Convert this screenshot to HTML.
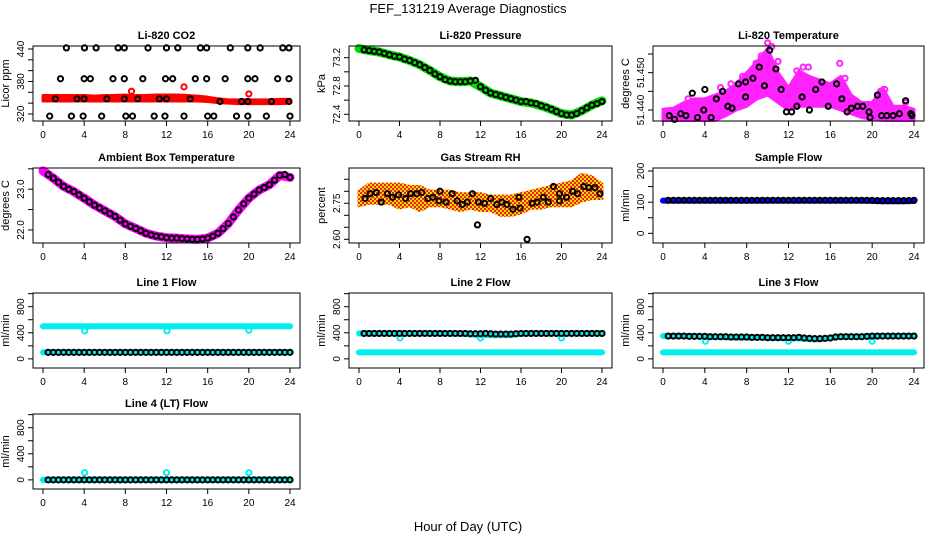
<!DOCTYPE html>
<html><head><meta charset="utf-8"><style>
html,body{margin:0;padding:0;background:#fff;}
svg{display:block;font-family:"Liberation Sans",sans-serif;}
</style></head><body>
<svg id="chart" width="936" height="540" viewBox="0 0 936 540" xmlns="http://www.w3.org/2000/svg">
<defs>
<pattern id="rhpat" width="4" height="4" patternUnits="userSpaceOnUse">
<rect width="4" height="4" fill="#ffd700"/><rect width="2" height="2" fill="#e8261a"/><rect x="2" y="2" width="2" height="2" fill="#e8261a"/>
</pattern>
</defs>
<text x="468" y="13" font-size="13" text-anchor="middle">FEF_131219  Average Diagnostics</text>
<text x="468" y="531" font-size="13" text-anchor="middle">Hour of Day (UTC)</text>
</svg>
<script>
const hourly=[0,1,2,3,4,5,6,7,8,9,10,11,12,13,14,15,16,17,18,19,20,21,22,23,24];
const halfHours=[0.5,1,1.5,2,2.5,3,3.5,4,4.5,5,5.5,6,6.5,7,7.5,8,8.5,9,9.5,10,10.5,11,11.5,12,12.5,13,13.5,14,14.5,15,15.5,16,16.5,17,17.5,18,18.5,19,19.5,20,20.5,21,21.5,22,22.5,23,23.5,24];
const xTicks=[0,4,8,12,16,20,24];

// CO2
const co2Lower=[344,344,344,344,344,344,344,344,344,344,344,344,344,344,344,344,343,341,340,339,339,339,339,339,340];
const co2Upper=[354,354,354,354,354,353,354,354,355,354,354,355,355,355,354,353,351,348,346,346,346,346,346,347,347];
const co2OutHours=[8.6,13.7,20];
const co2OutValues=[362,370,357];
const co2BlackHours=[2.27,4.03,5.16,7.3,7.9,10.2,12,13.1,15.3,15.9,18.2,19.9,21.1,23.3,23.9, 1.7,4,4.6,6.8,7.9,9.7,11.9,12.6,14.8,15.9,17.7,19.9,20.6,22.8,23.9, 1.2,3.3,4,6.2,7.9,9.2,11.3,12,14.3,17.2,19.3,19.9,22.2,23.9, 0.65,2.76,3.9,5.7,8.05,8.7,10.8,11.85,13.7,16,16.6,18.8,19.9,21.7,24];
const co2BlackValues=[442,442,442,442,442,442,442,442,442,442,442,442,442,442,442, 385,385,385,385,385,385,385,385,385,385,385,385,385,385,385, 348,348,348,348,348,348,348,348,348,343,343,343,343,343, 316,316,316,316,316,316,316,316,316,316,316,316,316,316,316];

// Pressure
const presBand=[73.33,73.30,73.28,73.24,73.21,73.16,73.10,73.02,72.93,72.87,72.86,72.87,72.79,72.70,72.66,72.62,72.58,72.56,72.52,72.47,72.41,72.39,72.45,72.53,72.59];
const presBlack=[73.31,73.30,73.29,73.28,73.26,73.24,73.22,73.21,73.18,73.16,73.13,73.10,73.06,73.02,72.97,72.93,72.89,72.87,72.86,72.86,72.86,72.87,72.88,72.79,72.74,72.70,72.68,72.66,72.64,72.62,72.60,72.58,72.58,72.56,72.55,72.52,72.50,72.47,72.44,72.41,72.39,72.39,72.41,72.45,72.49,72.53,72.55,72.58];

// Li-820 temperature
const ltUpper=[51.4402,51.4405,51.442,51.443,51.443,51.444,51.445,51.447,51.450,51.453,51.4565,51.450,51.446,51.4505,51.449,51.448,51.447,51.449,51.444,51.442,51.442,51.446,51.441,51.441,51.4402];
const ltLower=[51.4372,51.4372,51.4372,51.4372,51.4372,51.4372,51.4385,51.440,51.441,51.443,51.444,51.442,51.440,51.441,51.441,51.441,51.441,51.440,51.439,51.438,51.4375,51.4372,51.4372,51.4372,51.4372];
const ltScatterHours=[2.4,3.0,5.5,6.5,7.6,8.2,8.9,9.4,10.0,10.4,11.0,12.8,13.4,13.9,16.9,17.4,20.8,21.2,23.2,1.5];
const ltScatterValues=[51.4430,51.4415,51.4460,51.4470,51.4490,51.4480,51.4525,51.4545,51.4580,51.4570,51.4530,51.4505,51.4515,51.4515,51.4525,51.4485,51.4450,51.4455,51.4420,51.4405];
const ltBlackHours=[0.6,1.1,1.7,2.2,2.8,3.3,3.9,4,4.6,5.1,5.7,6.2,6.6,7.2,7.9,7.9,8.6,9.2,9.7,10.2,10.8,11.3,11.8,12.3,12.8,13.3,14,14.6,15.2,15.8,16.6,17.1,17.6,18,18.6,19.1,19.7,19.8,20.5,20.9,21.4,22,22.6,23.2,23.7,23.8];
const ltBlackValues=[51.4385,51.4375,51.439,51.4385,51.4445,51.438,51.440,51.4455,51.438,51.443,51.445,51.441,51.4405,51.447,51.4435,51.4475,51.4485,51.4515,51.4465,51.456,51.451,51.4455,51.4395,51.4395,51.441,51.4435,51.440,51.4455,51.4475,51.441,51.447,51.443,51.4395,51.4405,51.441,51.441,51.4395,51.438,51.444,51.4385,51.4385,51.4385,51.439,51.4425,51.439,51.4385];

// Ambient box temperature
const ambBand=[23.45,23.27,23.07,22.94,22.78,22.61,22.47,22.33,22.15,22.04,21.92,21.85,21.81,21.80,21.78,21.77,21.80,21.92,22.16,22.49,22.78,22.98,23.11,23.34,23.29];
const ambBlack=[23.36,23.27,23.17,23.07,23.0,22.94,22.86,22.78,22.69,22.61,22.54,22.47,22.40,22.33,22.24,22.15,22.09,22.04,21.98,21.92,21.88,21.85,21.83,21.81,21.80,21.80,21.79,21.78,21.77,21.77,21.78,21.80,21.85,21.92,22.03,22.16,22.32,22.49,22.64,22.78,22.88,22.98,23.04,23.11,23.22,23.34,23.36,23.29];

// Gas stream RH
const rhUpper=[2.80,2.83,2.83,2.83,2.83,2.82,2.82,2.80,2.80,2.80,2.79,2.79,2.79,2.78,2.78,2.78,2.79,2.80,2.81,2.82,2.83,2.84,2.87,2.86,2.83];
const rhLower=[2.74,2.75,2.75,2.75,2.73,2.74,2.72,2.74,2.74,2.73,2.72,2.73,2.72,2.72,2.70,2.70,2.71,2.73,2.73,2.74,2.74,2.74,2.76,2.77,2.77];
const rhBlackHours=[0.6,1.1,1.7,2.2,2.8,3.3,3.9,4.6,5.1,5.7,6.2,6.8,7.3,7.9,8,8.6,9.2,9.7,10.2,10.7,11.2,11.7,11.8,12.4,13,13.6,14.1,14.6,15.2,15.8,15.9,16.6,17.1,17.6,18.2,18.7,19.2,19.8,19.8,20.5,21.1,21.6,22.2,22.7,23.3,23.8];
const rhBlackValues=[2.77,2.79,2.795,2.755,2.79,2.775,2.785,2.77,2.79,2.79,2.795,2.77,2.775,2.76,2.80,2.755,2.79,2.76,2.745,2.755,2.79,2.66,2.755,2.75,2.77,2.745,2.755,2.745,2.725,2.775,2.73,2.60,2.75,2.755,2.775,2.755,2.82,2.76,2.79,2.775,2.80,2.79,2.82,2.815,2.815,2.79];

// Sample flow
const sampleBand=[105,105,105,105,105,105,105,105,105,105,105,105,105,105,105,105,105,105,105,105,104,103,103,103,104];
const sampleBlack=[106,106,106,106,106,106,106,106,106,106,106,106,106,106,106,106,106,106,106,106,106,106,106,106,106,106,106,106,106,106,106,106,106,106,106,106,106,106,106,106,105,105,105,105,105,105,105,106];

// Line flows
const l1High=[500,500,500,500,500,500,500,500,500,500,500,500,500,500,500,500,500,500,500,500,500,500,500,500,500];
const l1Low=[100,100,100,100,100,100,100,100,100,100,100,100,100,100,100,100,100,100,100,100,100,100,100,100,100];
const l1Black=[100,100,100,100,100,100,100,100,100,100,100,100,100,100,100,100,100,100,100,100,100,100,100,100,100,100,100,100,100,100,100,100,100,100,100,100,100,100,100,100,100,100,100,100,100,100,100,100];
const l1OutHours=[4.05,12.05,20.0];
const l1OutValues=[430,430,440];

const l2High=[390,390,390,390,390,390,390,390,390,390,385,375,370,365,365,365,385,390,390,390,390,390,390,390,390];
const l2Low=[100,100,100,100,100,100,100,100,100,100,100,100,100,100,100,100,100,100,100,100,100,100,100,100,100];
const l2Black=[390,390,390,390,390,390,390,390,390,390,390,390,390,390,390,390,390,390,390,390,390,385,385,385,390,385,380,380,380,380,385,390,390,390,390,390,390,390,390,390,390,390,390,390,390,390,390,390];
const l2OutHours=[4.05,12.0,20.0];
const l2OutValues=[320,320,320];

const l3High=[350,350,350,350,340,335,330,330,325,325,325,320,320,315,300,300,320,340,340,340,350,350,350,350,350];
const l3Low=[100,100,100,100,100,100,100,100,100,100,100,100,100,100,100,100,100,100,100,100,100,100,100,100,100];
const l3Black=[350,350,350,350,345,345,345,345,340,340,340,340,335,335,335,335,330,330,330,325,325,325,325,325,325,330,320,315,310,310,315,320,335,340,340,340,340,340,345,350,350,350,350,350,350,350,350,350];
const l3OutHours=[4.05,12.0,20.0];
const l3OutValues=[270,270,270];

const l4Band=[0,0,0,0,0,0,0,0,0,0,0,0,0,0,0,0,0,0,0,0,0,0,0,0,0];
const l4Black=[0,0,0,0,0,0,0,0,0,0,0,0,0,0,0,0,0,0,0,0,0,0,0,0,0,0,0,0,0,0,0,0,0,0,0,0,0,0,0,0,0,0,0,0,0,0,0,0];
const l4OutHours=[4.05,12.0,20.0];
const l4OutValues=[110,110,110];

const flowTicks=[0,200,400,600,800,1000];
const flowLabels=[0,400,800];

const NS='http://www.w3.org/2000/svg';
const svg=document.getElementById('chart');
const colX=[[33,300],[349,612],[653,924]];
const rowY=[46,168,293,414];
const BOXH=75;

function mk(tag,attrs,parent){const e=document.createElementNS(NS,tag);for(const k in attrs)e.setAttribute(k,attrs[k]);(parent||svg).appendChild(e);return e;}

function panel(col,row,title,ytitle,ylim,yticks,ylabels,fmt,name){
  const L=colX[col][0],R=colX[col][1],T=rowY[row],B=T+BOXH;
  const g=mk('g',{});
  
  
  const sx=h=>L+10+(h/24)*(R-L-20);
  const sy=v=>B-(v-ylim[0])/(ylim[1]-ylim[0])*BOXH;
  const plot=mk('g',{},g);
  
  
  const box=mk('rect',{x:L,y:T,width:R-L,height:BOXH,fill:'none',stroke:'#000','stroke-width':1},g);
  
  
  const t=mk('text',{x:(L+R)/2,y:T-7,'font-size':11,'font-weight':'bold','text-anchor':'middle'},g);
  t.textContent=title;
  
  
  xTicks.forEach(h=>{
    mk('line',{x1:sx(h),x2:sx(h),y1:B,y2:B+5,stroke:'#000'},g);
    const tl=mk('text',{x:sx(h),y:B+17,'font-size':10,'text-anchor':'middle'},g);
    tl.textContent=h;
    
    
  });
  mk('line',{x1:L,x2:L,y1:sy(yticks[0]),y2:sy(yticks[yticks.length-1]),stroke:'#000'},g);
  yticks.forEach(v=>{mk('line',{x1:L-5,x2:L,y1:sy(v),y2:sy(v),stroke:'#000'},g);});
  ylabels.forEach(v=>{
    const x=L-9,y=sy(v);
    const yl=mk('text',{x:x,y:y,'font-size':10,'text-anchor':'middle',transform:`rotate(-90 ${x} ${y})`},g);
    yl.textContent=fmt(v);
    
    
  });
  const yx=L-24,yy=(T+B)/2;
  const yt=mk('text',{x:yx,y:yy,'font-size':11,'text-anchor':'middle',transform:`rotate(-90 ${yx} ${yy})`},g);
  yt.textContent=ytitle;
  
  
  return {sx,sy,g:plot};
}
function band(p,xs,lo,hi,fill,name){
  let d='M'+xs.map((h,i)=>p.sx(h)+','+p.sy(hi[i])).join(' L');
  d+=' L'+xs.map((h,i)=>p.sx(h)+','+p.sy(lo[i])).reverse().join(' L')+' Z';
  const e=mk('path',{d:d,fill:fill,stroke:fill,'stroke-width':3,'stroke-linejoin':'round'},p.g);
  
  
}
function thick(p,xs,vals,color,w,name){
  const e=mk('polyline',{points:xs.map((h,i)=>p.sx(h)+','+p.sy(vals[i])).join(' '),fill:'none',stroke:color,'stroke-width':w,'stroke-linecap':'round','stroke-linejoin':'round'},p.g);
  
  
}
function pts(p,xs,vals,color,name){
  xs.forEach((h,i)=>{
    const c=mk('circle',{cx:p.sx(h),cy:p.sy(vals[i]),r:2.6,fill:'none',stroke:color,'stroke-width':2},p.g);
    
    
  });
}
const f0=v=>String(v), f1=v=>v.toFixed(1), f2=v=>v.toFixed(2), f3=v=>v.toFixed(3);

let p;
p=panel(0,0,'Li-820 CO2','Licor ppm',[307,445.5],[320,340,360,380,400,420,440],[320,380,440],f0,'co2');
band(p,hourly,co2Lower,co2Upper,'#f00','co2-band');
pts(p,co2OutHours,co2OutValues,'#f00','co2-outlier');
pts(p,co2BlackHours,co2BlackValues,'#000','co2-average-point');

p=panel(1,0,'Li-820 Pressure','kPa',[72.305,73.365],[72.4,72.6,72.8,73.0,73.2],[72.4,72.8,73.2],f1,'pressure');
thick(p,hourly,presBand,'#00dd00',9,'pressure-band');
pts(p,halfHours,presBlack,'#000','pressure-average-point');

p=panel(2,0,'Li-820 Temperature','degrees C',[51.43706,51.45714],[51.440,51.445,51.450,51.455],[51.440,51.450],f3,'li820-temp');
band(p,hourly,ltLower,ltUpper,'#ff22ff','li820-temp-band');
pts(p,ltScatterHours,ltScatterValues,'#ff22ff','li820-temp-scatter');
pts(p,ltBlackHours,ltBlackValues,'#000','li820-temp-average-point');

p=panel(0,1,'Ambient Box Temperature','degrees C',[21.68,23.52],[22.0,22.5,23.0,23.5],[22.0,23.0],f1,'ambient');
thick(p,hourly,ambBand,'#ff00ff',9,'ambient-band');
pts(p,halfHours,ambBlack,'#000','ambient-average-point');

p=panel(1,1,'Gas Stream RH','percent',[2.5846,2.897],[2.60,2.65,2.70,2.75,2.80,2.85],[2.60,2.75],f2,'rh');
band(p,hourly,rhLower,rhUpper,'url(#rhpat)','rh-band');
pts(p,rhBlackHours,rhBlackValues,'#000','rh-average-point');

p=panel(2,1,'Sample Flow','ml/min',[-31,209.6],[0,50,100,150,200],[0,100,200],f0,'sample-flow');
thick(p,hourly,sampleBand,'#0000ff',6,'sample-flow-band');
pts(p,halfHours,sampleBlack,'#000','sample-flow-average-point');

const flowPanels=[
 [0,2,'Line 1 Flow','line1',l1High,l1Low,l1Black,l1OutHours,l1OutValues],
 [1,2,'Line 2 Flow','line2',l2High,l2Low,l2Black,l2OutHours,l2OutValues],
 [2,2,'Line 3 Flow','line3',l3High,l3Low,l3Black,l3OutHours,l3OutValues],
 [0,3,'Line 4 (LT) Flow','line4',l4Band,l4Band,l4Black,l4OutHours,l4OutValues]
];
flowPanels.forEach(fp=>{
  const q=panel(fp[0],fp[1],fp[2],'ml/min',[-140,1010],flowTicks,flowLabels,f0,fp[3]);
  thick(q,hourly,fp[4],'#00eeee',6,fp[3]+'-high-band');
  thick(q,hourly,fp[5],'#00eeee',6,fp[3]+'-low-band');
  pts(q,fp[7],fp[8],'#00eeee',fp[3]+'-outlier');
  pts(q,halfHours,fp[6],'#000',fp[3]+'-average-point');
});
</script>
</body></html>
